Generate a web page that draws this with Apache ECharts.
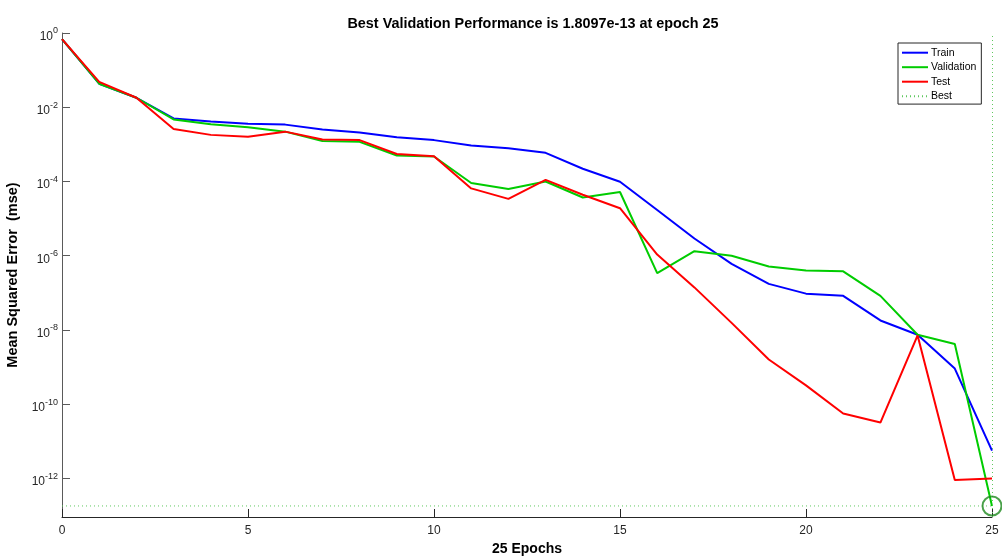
<!DOCTYPE html>
<html>
<head>
<meta charset="utf-8">
<script src="https://cdn.jsdelivr.net/npm/echarts@6/dist/echarts.min.js"></script>
<style>
html,body{margin:0;padding:0;background:#fff;}
#c{width:1002px;height:557px;}
</style>
</head>
<body>
<div id="c"></div>
<script>
const epochs = [0,1,2,3,4,5,6,7,8,9,10,11,12,13,14,15,16,17,18,19,20,21,22,23,24,25];
const train = [0.68,4.3e-2,1.8e-2,5.0e-3,4.1e-3,3.6e-3,3.4e-3,2.5e-3,2.1e-3,1.55e-3,1.3e-3,9.3e-4,7.9e-4,5.9e-4,2.2e-4,9.8e-5,1.7e-5,2.9e-6,6.0e-7,1.74e-7,9.5e-8,8.3e-8,1.8e-8,7.4e-9,9.1e-10,5.6e-12];
const validation = [0.68,4.3e-2,1.8e-2,4.7e-3,3.5e-3,2.9e-3,2.2e-3,1.23e-3,1.17e-3,5.0e-4,4.7e-4,9.1e-5,6.3e-5,1.0e-4,3.7e-5,5.2e-5,3.4e-7,1.32e-6,1.0e-6,5.1e-7,4.0e-7,3.8e-7,8.3e-8,7.4e-9,4.2e-9,1.8097e-13];
const test = [0.68,4.8e-2,1.8e-2,2.6e-3,1.8e-3,1.6e-3,2.2e-3,1.35e-3,1.3e-3,5.5e-4,4.8e-4,6.5e-5,3.4e-5,1.1e-4,4.4e-5,1.9e-5,1.07e-6,1.4e-7,1.55e-8,1.6e-9,3.2e-10,5.6e-11,3.2e-11,7.1e-9,9.1e-13,1.0e-12];
const bestEpoch = 25;
const bestValue = 1.8097e-13;
const xTicks = [0,5,10,15,20,25];
const yTicks = [1,1e-2,1e-4,1e-6,1e-8,1e-10,1e-12];
const yMin = Math.pow(10,-13.04);
const yMax = 1;

const FONT = '"Liberation Sans", Arial, Helvetica, sans-serif';
const pair = arr => arr.map((v,i)=>[epochs[i], v]);

const chart = echarts.init(document.getElementById('c'), null, {renderer:'canvas'});
chart.setOption({
  backgroundColor:'#ffffff',
  animation:false,
  title:{
    text:'Best Validation Performance is ' + bestValue.toExponential(4) + ' at epoch ' + bestEpoch,
    left:528, top:12, textAlign:'center',
    textStyle:{fontFamily:FONT, fontSize:14.4, fontWeight:'bold', color:'#000'}
  },
  legend:{
    orient:'vertical', left:898, top:43,
    padding:[4.2,5,2.4,3],
    itemGap:3.5,
    itemWidth:26, itemHeight:10,
    borderColor:'#262626', borderWidth:1, backgroundColor:'#fff',
    itemStyle:{opacity:0},
    textStyle:{fontFamily:FONT, fontSize:10.5, color:'#000', padding:[0,0,0,-2]},
    data:['Train','Validation','Test','Best']
  },
  grid:{left:62, right:10, top:33, bottom:40, containLabel:false, outerBoundsMode:'none'},
  xAxis:{
    type:'value', min:0, max:25, interval:5,
    name:'25 Epochs', nameLocation:'middle', nameGap:25,
    nameTextStyle:{fontFamily:FONT, fontSize:14, fontWeight:'bold', color:'#000'},
    axisLine:{show:true, onZero:false, lineStyle:{color:'#262626', width:1}},
    axisTick:{show:true, inside:true, length:8, lineStyle:{color:'#262626'}},
    axisLabel:{fontFamily:FONT, fontSize:12, color:'#262626', margin:8},
    splitLine:{show:false}
  },
  yAxis:{
    type:'log', logBase:10, min:yMin, max:yMax,
    name:'Mean Squared Error  (mse)', nameLocation:'middle', nameGap:34,
    nameTextStyle:{fontFamily:FONT, fontSize:14.5, fontWeight:'bold', color:'#000'},
    axisLine:{show:true, onZero:false, lineStyle:{color:'#5a5a5a', width:1}},
    axisTick:{show:true, inside:true, length:8, customValues:yTicks, lineStyle:{color:'#5a5a5a'}},
    axisLabel:{
      customValues:yTicks, margin:4,
      fontFamily:FONT, fontSize:12, color:'#262626',
      formatter:function(v){
        const e = Math.round(Math.log10(v));
        return '{b|10}{s|' + e + '}';
      },
      rich:{
        b:{fontFamily:FONT, fontSize:12, color:'#262626', padding:[7,0,0,0]},
        s:{fontFamily:FONT, fontSize:9, color:'#262626', padding:[0,0,4,0]}
      }
    },
    splitLine:{show:false}
  },
  series:[
    {name:'Train', type:'line', data:pair(train), symbol:'none', lineStyle:{color:'#0000ff', width:2}, itemStyle:{color:'#0000ff'}},
    {name:'Validation', type:'line', data:pair(validation), symbol:'none', lineStyle:{color:'#00cc00', width:2}, itemStyle:{color:'#00cc00'}},
    {name:'Test', type:'line', data:pair(test), symbol:'none', lineStyle:{color:'#ff0000', width:2}, itemStyle:{color:'#ff0000'}},
    {name:'Best', type:'line', data:[[0,bestValue],[bestEpoch,bestValue]], symbol:'none',
      lineStyle:{color:'#5fc85f', width:1, type:[1,3]}, itemStyle:{color:'#5fc85f'},
      markLine:{silent:true, symbol:'none', label:{show:false},
        lineStyle:{color:'#5fc85f', width:1, type:[1,3]},
        data:[{xAxis:bestEpoch}]}
    },
    {name:'BestMark', type:'scatter', data:[[bestEpoch,bestValue]], symbol:'circle', symbolSize:19, clip:false,
      itemStyle:{color:'rgba(0,0,0,0)', borderColor:'#1e8a1e', borderWidth:2}, z:5}
  ]
});
</script>
</body>
</html>
